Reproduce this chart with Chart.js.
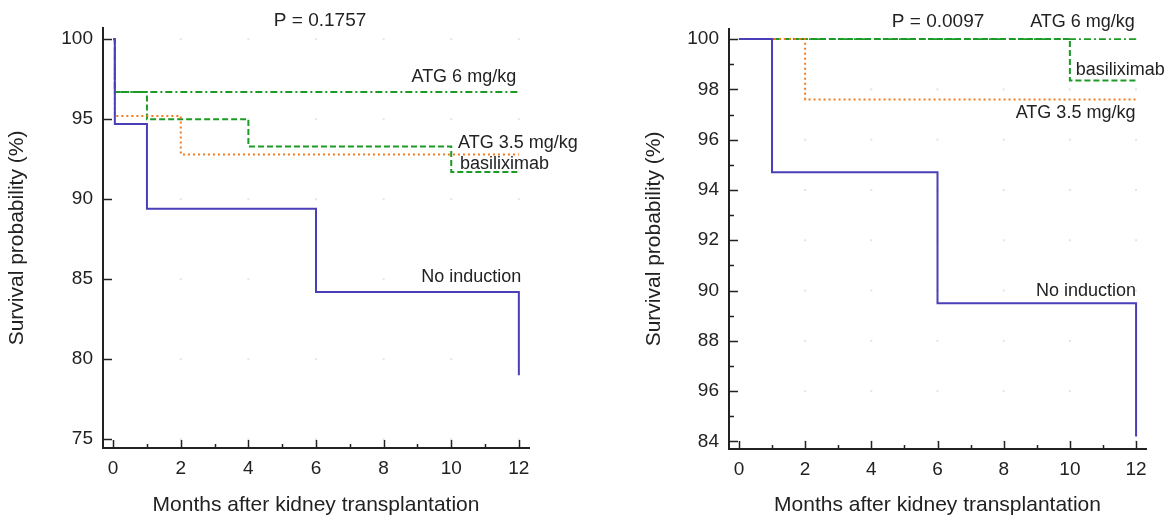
<!DOCTYPE html>
<html lang="en">
<head>
<meta charset="UTF-8">
<title>Survival after kidney transplantation</title>
<script src="https://cdn.jsdelivr.net/npm/chart.js"></script>
<style>
    body { margin: 0; background: #fff; }
    .panel { position: absolute; top: 0; width: 585px; height: 520px; }
    #leftPanel { left: 0; }
    #rightPanel { left: 585px; }
</style>
</head>
<body>
<div class="panel" id="leftPanel"><canvas id="leftChart" width="585" height="520"></canvas></div>
<div class="panel" id="rightPanel"><canvas id="rightChart" width="585" height="520"></canvas></div>
<script>
// ---- data: left panel (P = 0.1757) ----
const leftNoneMonths = [0, 0.05, 1, 6, 12];
const leftNoneSurv   = [100, 94.7, 89.4, 84.2, 79.0];
const leftAtg6Months = [0, 0.05, 12];
const leftAtg6Surv   = [100, 96.7, 96.7];
const leftAtg35Months = [0, 0.05, 2, 12];
const leftAtg35Surv   = [100, 95.2, 92.8, 92.8];
const leftBasiMonths = [0, 0.05, 1, 4, 10, 12];
const leftBasiSurv   = [100, 96.7, 95.0, 93.3, 91.7, 91.7];
const leftYTicks  = [75, 80, 85, 90, 95, 100];
const leftYLabels = ['75', '80', '85', '90', '95', '100'];

// ---- data: right panel (P = 0.0097) ----
const rightNoneMonths = [0, 1, 6, 12];
const rightNoneSurv   = [100, 94.7, 89.5, 84.2];
const rightAtg6Months = [0, 12];
const rightAtg6Surv   = [100, 100];
const rightAtg35Months = [0, 2, 12];
const rightAtg35Surv   = [100, 97.6, 97.6];
const rightBasiMonths = [0, 10, 12];
const rightBasiSurv   = [100, 98.35, 98.35];
const rightYTicks  = [84, 86, 88, 90, 92, 94, 96, 98, 100];
const rightYLabels = ['84', '96', '88', '90', '92', '94', '96', '98', '100'];

const xTicks = [0, 2, 4, 6, 8, 10, 12];

const BLUE = '#4a3fb6';
const GREEN = '#1c9a26';
const ORANGE = '#f57a1e';
const INK = '#222';
const FONT = 'Liberation Sans, Arial, sans-serif';

function toPoints(xs, ys) {
    return xs.map((x, i) => ({ x: x, y: ys[i] }));
}

function curves(none, atg35, basi, atg6) {
    return [
        { label: 'No induction', data: none, borderColor: BLUE, borderWidth: 2 },
        { label: 'ATG 3.5 mg/kg', data: atg35, borderColor: ORANGE, borderWidth: 2, borderDash: [2, 3] },
        { label: 'basiliximab', data: basi, borderColor: GREEN, borderWidth: 2, borderDash: [6, 3] },
        { label: 'ATG 6 mg/kg', data: atg6, borderColor: GREEN, borderWidth: 1.8, borderDash: [7, 3, 2, 3] }
    ].map(d => Object.assign(d, { stepped: true, pointRadius: 0, fill: false, tension: 0 }));
}

// faint grid dots under the curves; inward tick marks and in-plot text on top
const decorPlugin = {
    id: 'decor',
    beforeDatasetsDraw(chart) {
        const o = chart.options.plugins.decor;
        const ctx = chart.ctx;
        const xs = chart.scales.x, ys = chart.scales.y;
        ctx.save();
        ctx.fillStyle = '#e4e4e4';
        xTicks.forEach(v => {
            if (v === 0) return;
            o.yTicks.forEach(t => {
                ctx.fillRect(xs.getPixelForValue(v) - 1, ys.getPixelForValue(t) - 1, 2, 2);
            });
        });
        ctx.restore();
    },
    afterDraw(chart) {
        const o = chart.options.plugins.decor;
        const ctx = chart.ctx;
        const xs = chart.scales.x, ys = chart.scales.y;
        const area = chart.chartArea;
        ctx.save();
        ctx.strokeStyle = INK;
        ctx.lineWidth = 1.5;
        ctx.beginPath();
        for (let m = 0; m <= 12; m++) {
            const px = Math.round(xs.getPixelForValue(m)) + 0.5;
            const len = m % 2 === 0 ? 8 : 4;
            ctx.moveTo(px, area.bottom);
            ctx.lineTo(px, area.bottom - len);
        }
        o.yTicks.forEach(t => {
            const py = Math.round(ys.getPixelForValue(t)) + 0.5;
            ctx.moveTo(area.left, py);
            ctx.lineTo(area.left + 9, py);
        });
        o.yMinor.forEach(t => {
            const py = Math.round(ys.getPixelForValue(t)) + 0.5;
            ctx.moveTo(area.left, py);
            ctx.lineTo(area.left + 5, py);
        });
        ctx.stroke();

        ctx.fillStyle = INK;
        ctx.textBaseline = 'alphabetic';
        o.notes.forEach(n => {
            ctx.font = n.size + 'px ' + FONT;
            ctx.textAlign = n.align;
            ctx.fillText(n.text, xs.getPixelForValue(n.x), ys.getPixelForValue(n.y));
        });
        ctx.restore();
    }
};

function makeChart(id, sets, yMin, yMax, yTicks, yLabels, yMinor, yWidth, titlePad, pad, xHeight, notes) {
    return new Chart(document.getElementById(id), {
        type: 'line',
        data: { datasets: sets },
        plugins: [decorPlugin],
        options: {
            responsive: false,
            animation: false,
            layout: { padding: pad },
            plugins: {
                legend: { display: false },
                tooltip: { enabled: false },
                decor: { yTicks: yTicks, yMinor: yMinor, notes: notes }
            },
            scales: {
                x: {
                    type: 'linear',
                    min: -0.3,
                    max: 12.3,
                    afterBuildTicks: s => { s.ticks = xTicks.map(v => ({ value: v })); },
                    afterFit: s => { s.height = xHeight; },
                    grid: { display: false, drawTicks: false },
                    border: { color: INK, width: 2 },
                    ticks: { color: INK, font: { family: FONT, size: 19 }, padding: 9, maxRotation: 0 },
                    title: {
                        display: true,
                        text: 'Months after kidney transplantation',
                        color: INK,
                        font: { family: FONT, size: 21 },
                        padding: { top: 14, bottom: 2 }
                    }
                },
                y: {
                    min: yMin,
                    max: yMax,
                    afterBuildTicks: s => { s.ticks = yTicks.map(v => ({ value: v })); },
                    afterFit: s => { s.width = yWidth; },
                    grid: { display: false, drawTicks: false },
                    border: { color: INK, width: 2 },
                    ticks: {
                        color: INK,
                        font: { family: FONT, size: 19 },
                        padding: 10,
                        callback: (v, i) => yLabels[i]
                    },
                    title: {
                        display: true,
                        text: 'Survival probability (%)',
                        color: INK,
                        font: { family: FONT, size: 21 },
                        padding: { top: titlePad, bottom: 0 }
                    }
                }
            }
        }
    });
}

makeChart('leftChart',
    curves(toPoints(leftNoneMonths, leftNoneSurv), toPoints(leftAtg35Months, leftAtg35Surv),
           toPoints(leftBasiMonths, leftBasiSurv), toPoints(leftAtg6Months, leftAtg6Surv)),
    74.45, 100.7, leftYTicks, leftYLabels, [], 103, 5,
    { top: 28, right: 56, left: 0, bottom: 0 }, 72,
    [
        { text: 'P = 0.1757', x: 6.12, y: 100.85, align: 'center', size: 19 },
        { text: 'ATG 6 mg/kg', x: 11.92, y: 97.31, align: 'right', size: 18 },
        { text: 'ATG 3.5 mg/kg', x: 10.2, y: 93.19, align: 'left', size: 18 },
        { text: 'basiliximab', x: 10.26, y: 91.88, align: 'left', size: 18 },
        { text: 'No induction', x: 12.07, y: 84.81, align: 'right', size: 18 }
    ]);

makeChart('rightChart',
    curves(toPoints(rightNoneMonths, rightNoneSurv), toPoints(rightAtg35Months, rightAtg35Surv),
           toPoints(rightBasiMonths, rightBasiSurv), toPoints(rightAtg6Months, rightAtg6Surv)),
    83.7, 100.4, rightYTicks, rightYLabels, [85, 87, 89, 91, 93, 95, 97, 99], 144, 57,
    { top: 29, right: 24, left: 0, bottom: 0 }, 71,
    [
        { text: 'P = 0.0097', x: 4.62, y: 100.47, align: 'left', size: 19 },
        { text: 'ATG 6 mg/kg', x: 8.8, y: 100.47, align: 'left', size: 18 },
        { text: 'basiliximab', x: 10.18, y: 98.59, align: 'left', size: 18 },
        { text: 'ATG 3.5 mg/kg', x: 11.98, y: 96.88, align: 'right', size: 18 },
        { text: 'No induction', x: 12.0, y: 89.79, align: 'right', size: 18 }
    ]);
</script>
</body>
</html>
